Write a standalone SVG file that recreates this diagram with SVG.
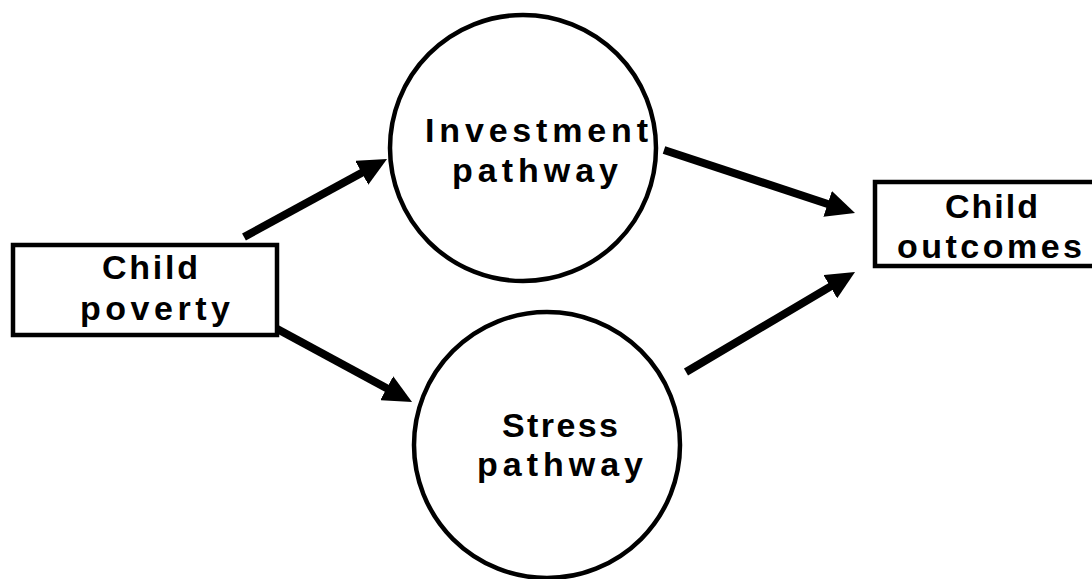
<svg xmlns="http://www.w3.org/2000/svg" width="1092" height="579" viewBox="0 0 1092 579">
  <style>
    .box { fill: #ffffff; stroke: #000000; stroke-width: 4.5; }
    .circ { fill: #ffffff; stroke: #000000; stroke-width: 4.5; }
    .lbl { font-family: "Liberation Sans", Arial, sans-serif; font-weight: bold; font-size: 34px; fill: #000000; }
    .conn { stroke: #000000; stroke-width: 8; fill: none; marker-end: url(#head); }
  </style>
  <defs>
    <marker id="head" viewBox="0 0 3.6 3.4" refX="2.1" refY="1.7" markerWidth="3.6" markerHeight="3.4" orient="auto" markerUnits="strokeWidth">
      <path d="M0,0 L3.6,1.7 L0,3.4 z" fill="#000000"/>
    </marker>
  </defs>
  <rect x="0" y="0" width="1092" height="579" fill="#ffffff"/>

  <g id="connectors">
    <line class="conn" x1="244" y1="237" x2="376.5" y2="164.7"/>
    <line class="conn" x1="268" y1="324" x2="401.5" y2="396.3"/>
    <line class="conn" x1="664" y1="150" x2="843.6" y2="209.2"/>
    <line class="conn" x1="686" y1="372" x2="844.7" y2="278.1"/>
  </g>

  <g id="child-poverty">
    <rect class="box" x="13" y="245" width="264" height="90"/>
    <text class="lbl" x="102" y="279" textLength="96" lengthAdjust="spacing">Child</text>
    <text class="lbl" x="80" y="320" textLength="150" lengthAdjust="spacing">poverty</text>
  </g>

  <g id="investment-pathway">
    <circle class="circ" cx="523" cy="148" r="133"/>
    <text class="lbl" x="425" y="142" textLength="223" lengthAdjust="spacing">Investment</text>
    <text class="lbl" x="452" y="182" textLength="166" lengthAdjust="spacing">pathway</text>
  </g>

  <g id="stress-pathway">
    <circle class="circ" cx="547" cy="445" r="133"/>
    <text class="lbl" x="502" y="437" textLength="116" lengthAdjust="spacing">Stress</text>
    <text class="lbl" x="477" y="476" textLength="166" lengthAdjust="spacing">pathway</text>
  </g>

  <g id="child-outcomes">
    <rect class="box" x="875" y="182" width="230" height="84"/>
    <text class="lbl" x="945" y="218" textLength="93" lengthAdjust="spacing">Child</text>
    <text class="lbl" x="897" y="258" textLength="185" lengthAdjust="spacing">outcomes</text>
  </g>
</svg>
